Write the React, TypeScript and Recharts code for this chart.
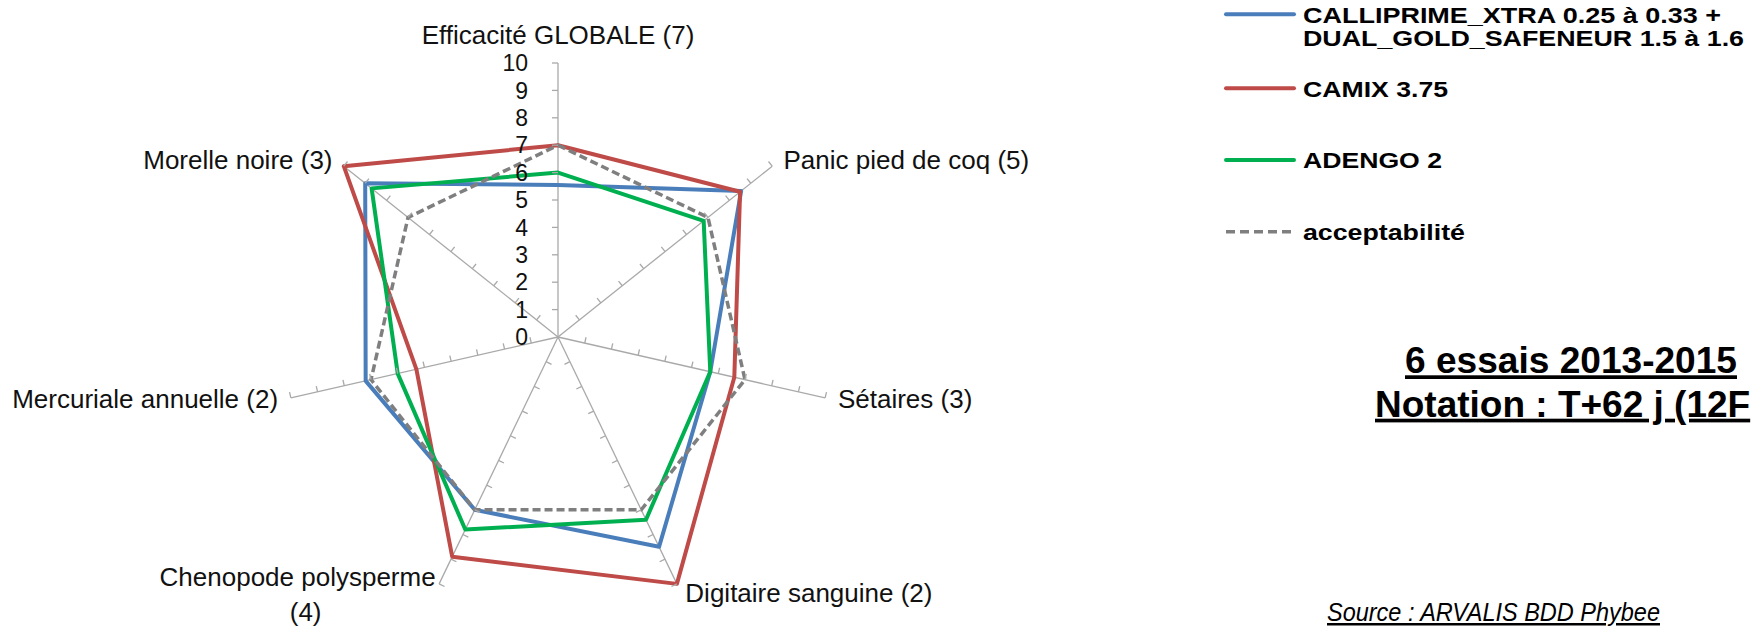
import React from 'react';
import { RadarChart, Radar, PolarGrid, PolarAngleAxis, PolarRadiusAxis } from 'recharts';

const categories = [
  'Efficacité GLOBALE (7)',
  'Panic pied de coq (5)',
  'Sétaires (3)',
  'Digitaire sanguine (2)',
  'Chenopode polysperme (4)',
  'Mercuriale annuelle (2)',
  'Morelle noire (3)',
];
const calliprime = [5.55, 8.55, 5.7, 8.5, 7.0, 7.2, 9.0];
const camix = [7.0, 8.5, 6.6, 10, 8.9, 5.3, 10];
const adengo = [6.0, 6.8, 5.7, 7.4, 7.8, 6.0, 8.7];
const acceptabilite = [7, 7, 7, 7, 7, 7, 7];
const radiusTicks = [0, 1, 2, 3, 4, 5, 6, 7, 8, 9, 10];

const legendLabels = {
  calliprime: ['CALLIPRIME_XTRA 0.25 à 0.33 +', 'DUAL_GOLD_SAFENEUR 1.5 à 1.6'],
  camix: 'CAMIX 3.75',
  adengo: 'ADENGO 2',
  acceptabilite: 'acceptabilité',
};
const title = ['6 essais 2013-2015', 'Notation : T+62 j (12F'];
const source = 'Source : ARVALIS BDD Phybee';

const data = categories.map((axe, i) => ({
  axe,
  calliprime: calliprime[i],
  camix: camix[i],
  adengo: adengo[i],
  acceptabilite: acceptabilite[i],
}));

const W = 1751;
const H = 629;
const CX = 558;
const CY = 337;
const R = 274;
const FONT = '"Liberation Sans", Arial, sans-serif';
const GRID = '#a9a9a9';
const BLUE = '#4a7ebb';
const RED = '#be4b48';
const GREEN = '#00b050';
const GREY = '#7f7f7f';

// side of each spoke the little tick marks sit on (1 = left when looking outward)
const tickSide = [1, 1, 1, -1, 1, -1, -1];

function RadiusTick(props: any) {
  const { x, y, payload } = props;
  const r = Math.hypot(x - CX, y - CY);
  const n = categories.length;
  const marks = [];
  if (r > 1) {
    for (let i = 0; i < n; i++) {
      const t = (i * 2 * Math.PI) / n;
      const dx = Math.sin(t);
      const dy = -Math.cos(t);
      const px = CX + r * dx;
      const py = CY + r * dy;
      const s = tickSide[i] * 6;
      marks.push(
        <line key={i} x1={px} y1={py} x2={px + s * dy} y2={py - s * dx} stroke={GRID} strokeWidth={1.3} />
      );
    }
  }
  return (
    <g>
      {marks}
      <text x={x - 30} y={y} dy="0.36em" textAnchor="end" fontSize={23} fontFamily={FONT} fill="#111">
        {payload.value}
      </text>
    </g>
  );
}

function AngleTick(props: any) {
  const { payload } = props;
  const a = (payload.coordinate * Math.PI) / 180;
  const cos = Math.cos(a);
  const sin = Math.sin(a);
  const px = CX + (R + 8) * cos;
  const py = CY - (R + 8) * sin;
  const label = String(payload.value);
  const common = { fontSize: 26, fontFamily: FONT, fill: '#111' };

  if (sin > 0.9) {
    return (
      <text x={px} y={py - 11} textAnchor="middle" {...common}>
        {label}
      </text>
    );
  }
  if (label.length > 22 && sin < -0.5) {
    const cut = label.lastIndexOf(' ');
    return (
      <g>
        <text x={px} y={py - 5} textAnchor="end" {...common}>
          {label.slice(0, cut)}
        </text>
        <text x={px - 130} y={py + 30} textAnchor="middle" {...common}>
          {label.slice(cut + 1)}
        </text>
      </g>
    );
  }
  return (
    <text
      x={px + (cos > 0 ? 5 : -5)}
      y={py + (sin < -0.5 ? 11 : 8)}
      textAnchor={cos > 0 ? 'start' : 'end'}
      {...common}
    >
      {label}
    </text>
  );
}

function LegendAndNotes() {
  const bold = { fontFamily: FONT, fontWeight: 700, fontSize: 22, fill: '#000', lengthAdjust: 'spacingAndGlyphs' as const };
  return (
    <svg width={W} height={H} style={{ position: 'absolute', left: 0, top: 0, pointerEvents: 'none' }}>
      <line x1={1226} y1={14.3} x2={1294} y2={14.3} stroke={BLUE} strokeWidth={4} strokeLinecap="round" />
      <text x={1303} y={22.7} textLength={418} {...bold}>{legendLabels.calliprime[0]}</text>
      <text x={1303} y={46} textLength={441} {...bold}>{legendLabels.calliprime[1]}</text>

      <line x1={1226} y1={88.3} x2={1294} y2={88.3} stroke={RED} strokeWidth={4} strokeLinecap="round" />
      <text x={1303} y={96.5} textLength={145} {...bold}>{legendLabels.camix}</text>

      <line x1={1226} y1={160} x2={1294} y2={160} stroke={GREEN} strokeWidth={4} strokeLinecap="round" />
      <text x={1303} y={168.3} textLength={139} {...bold}>{legendLabels.adengo}</text>

      <line x1={1226} y1={231.7} x2={1295} y2={231.7} stroke={GREY} strokeWidth={3.5} strokeDasharray="9 5" />
      <text x={1303} y={239.5} textLength={162} {...bold}>{legendLabels.acceptabilite}</text>

      <text x={1405} y={373.3} fontFamily={FONT} fontWeight={700} fontSize={37} fill="#000"
        textLength={332} lengthAdjust="spacingAndGlyphs" textDecoration="underline">
        {title[0]}
      </text>
      <text x={1375} y={416.7} fontFamily={FONT} fontWeight={700} fontSize={37} fill="#000" textDecoration="underline">
        {title[1]}
      </text>

      <text x={1327} y={621} fontFamily={FONT} fontStyle="italic" fontSize={25} fill="#000"
        textLength={333} lengthAdjust="spacingAndGlyphs" textDecoration="underline">
        {source}
      </text>
    </svg>
  );
}

export default function App() {
  return (
    <div style={{ position: 'absolute', left: 0, top: 0, width: W, height: H, background: '#fff', overflow: 'hidden' }}>
      <RadarChart
        width={W}
        height={H}
        data={data}
        cx={CX}
        cy={CY}
        outerRadius={R}
        margin={{ top: 0, right: 0, bottom: 0, left: 0 }}
      >
        <PolarGrid gridType="polygon" polarRadius={[0]} stroke={GRID} strokeWidth={1.3} />
        <PolarAngleAxis dataKey="axe" axisLine={false} tickLine={false} tick={AngleTick} />
        <PolarRadiusAxis
          angle={90}
          type="number"
          domain={[radiusTicks[0], radiusTicks[radiusTicks.length - 1]]}
          tickCount={radiusTicks.length}
          axisLine={false}
          tick={RadiusTick}
        />
        <Radar dataKey="calliprime" stroke={BLUE} strokeWidth={4} fill="none" strokeLinejoin="round" dot={false} isAnimationActive={false} />
        <Radar dataKey="camix" stroke={RED} strokeWidth={4} fill="none" strokeLinejoin="round" dot={false} isAnimationActive={false} />
        <Radar dataKey="adengo" stroke={GREEN} strokeWidth={4} fill="none" strokeLinejoin="round" dot={false} isAnimationActive={false} />
        <Radar
          dataKey="acceptabilite"
          stroke={GREY}
          strokeWidth={3.5}
          strokeDasharray="8 4"
          fill="none"
          dot={false}
          isAnimationActive={false}
        />
      </RadarChart>
      <LegendAndNotes />
    </div>
  );
}
